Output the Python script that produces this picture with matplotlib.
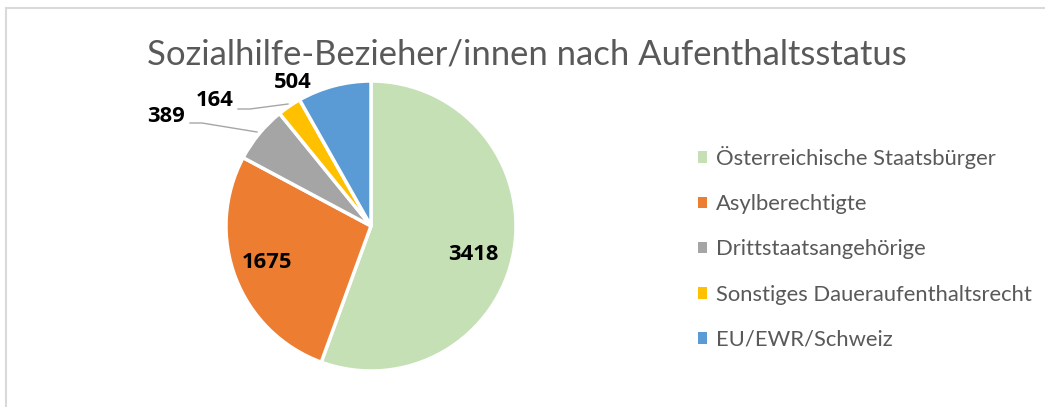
import matplotlib
matplotlib.use("Agg")
import matplotlib.pyplot as plt
from matplotlib.patches import Patch, Rectangle

plt.rcParams['font.family'] = ['Lato', 'DejaVu Sans']

categories = ["Österreichische Staatsbürger", "Asylberechtigte", "Drittstaatsangehörige",
              "Sonstiges Daueraufenthaltsrecht", "EU/EWR/Schweiz"]
values = [3418, 1675, 389, 164, 504]
colors = ["#C5E0B4", "#ED7D31", "#A5A5A5", "#FFC000", "#5B9BD5"]
title = "Sozialhilfe-Bezieher/innen nach Aufenthaltsstatus"

W, H = 1045, 407
fig = plt.figure(figsize=(W / 100, H / 100), dpi=100)

# border
fig.add_artist(Rectangle((6 / W, -0.1), 1.2, 1 - 8 / H + 0.1, transform=fig.transFigure,
                         fill=False, edgecolor="#D9D9D9", linewidth=1.5))

cx, cy, r = 371, 226, 145
ax = fig.add_axes([(cx - r) / W, (H - cy - r) / H, 2 * r / W, 2 * r / H])
wedges, _ = ax.pie(values, colors=colors, startangle=90, counterclock=False, radius=1,
                   wedgeprops=dict(edgecolor="white", linewidth=2.5))
ax.set_xlim(-1, 1)
ax.set_ylim(-1, 1)
ax.set_aspect("equal")
ax.axis("off")

def px(x, y):
    return ((x - cx) / r, (cy - y) / r)

label_pos = [(473, 254), (267, 263), (166, 116), (215, 101), (293, 83)]
for v, (x, y) in zip(values, label_pos):
    ax.text(*px(x, y), str(v), ha="center", va="center", fontsize=15.8,
            fontweight="bold", family=["Open Sans", "DejaVu Sans"], color="black", clip_on=False)

leaders = [[(190, 123), (202, 123), (257, 132)], [(238, 109), (250, 109), (288, 104)]]
for pts in leaders:
    xs, ys = zip(*[px(x, y) for x, y in pts])
    ax.plot(xs, ys, color="#A6A6A6", linewidth=1.0, clip_on=False)

fig.text(527 / W, 1 - 54 / H, title, ha="center", va="center", fontsize=24.9, color="#595959")

handles = [Patch(facecolor=c, edgecolor="none") for c in colors]
fig.legend(handles, categories, loc="upper left", bbox_to_anchor=(698 / W, 1 - 146 / H),
           frameon=False, fontsize=15.8, labelcolor="#595959", borderpad=0, borderaxespad=0,
           handlelength=0.42, handleheight=0.42, handletextpad=0.42, labelspacing=1.15)

fig.savefig("out.png", dpi=100, facecolor="white")
